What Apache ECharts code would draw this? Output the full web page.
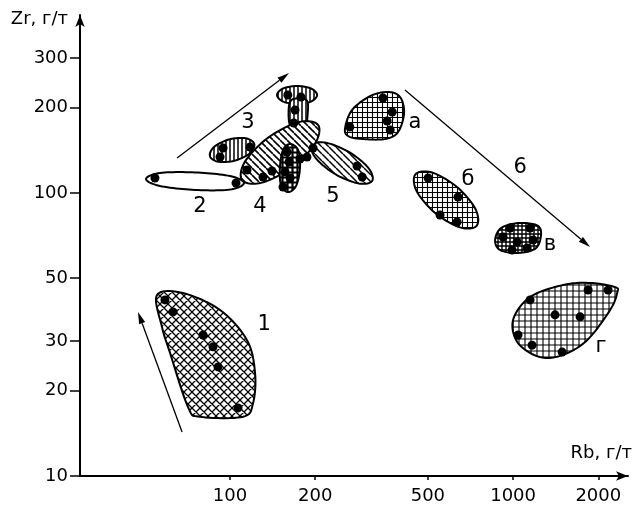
<!DOCTYPE html>
<html>
<head>
<meta charset="utf-8">
<script src="https://cdn.jsdelivr.net/npm/echarts@6/dist/echarts.min.js"></script>
<style>
  html, body { margin: 0; background: #fff; }
  #chart { width: 637px; height: 510px; }
</style>
</head>
<body>
<div id="chart"></div>
<script>
// все значения: [Rb, Zr], г/т
const xTicks = [100, 200, 500, 1000, 2000]
const yTicks = [10, 20, 30, 50, 100, 200, 300]

// контуры полей
const field1 = [[55.2, 43.6], [68.2, 44.3], [92.2, 38.6], [114.8, 30.2], [122.6, 23.1], [120.6, 18.1], [111.2, 16.2], [78.3, 16.2], [71.1, 17.5], [61.4, 27.2], [57.5, 33.6]]
const field2 = [[50.5, 112], [56.6, 117.7], [75.2, 118.2], [100, 114.8], [112, 108.5], [100, 102.9], [75.2, 102.5], [56.6, 105.9]]
const field3 = [[121.8, 149], [117.4, 138.1], [104, 130.2], [90.9, 129], [84.9, 135.1], [88, 145.7], [99.4, 154.7], [113.6, 156.1]]
const field4 = [[204.8, 173.9], [199.4, 149.1], [164.4, 122.7], [128.7, 108.6], [110.2, 111.2], [113.2, 129.6], [137.2, 157.6], [175.3, 178.1]]
const field4in = [[163, 149], [173.9, 141.9], [176.7, 122.6], [171.1, 105.9], [160, 100.8], [151.4, 106.7], [150, 122.6], [153.9, 141.9]]
const fieldTop = [[203, 222], [193.3, 210.6], [172.5, 206.3], [153.9, 210.6], [146.6, 222], [153.9, 234.1], [172.5, 238.8], [193.3, 234.1]]
const fieldStem = [[165, 213.2], [186, 213.2], [188, 190.2], [183, 169.7], [165, 169.7], [161, 190.2]]
const field5 = [[318.1, 110.5], [285, 108.1], [235.7, 116.5], [201.2, 132.5], [194.5, 147.4], [217, 150.7], [262.5, 139.8], [307.4, 123]]
const fieldA = [[255, 169.7], [269.9, 196.5], [312.5, 220], [361.7, 227.5], [398.8, 218.4], [412, 191.7], [392.4, 164.3], [352.9, 155.2], [292.7, 155.2], [261.2, 159]]
const fieldB = [[743.6, 76.6], [649.6, 75.6], [530.6, 85], [456.3, 101.6], [451.9, 116.4], [517.4, 118.1], [633.6, 105], [736.3, 87.8]]
const fieldV = [[1256, 72.2], [1206, 63.9], [1041, 61.4], [899.5, 62.9], [864, 68.2], [907, 75.2], [1041, 78.3], [1206, 77.1]]
const fieldG = [[2294, 46.5], [1871, 48.1], [1502, 47.3], [1148, 42.9], [1000, 35.6], [1041, 29.5], [1246, 26.3], [1502, 26.8], [1826, 30.2], [2202, 38.6], [2331, 44.3]]

// точки анализов
const pts1 = [[58.9, 41.9], [62.9, 38], [80.3, 31.5], [87.1, 28.6], [90.7, 24.3], [106.7, 17.4]]
const pts2 = [[54.3, 113], [105, 108.5]]
const pts3 = [[94.5, 144.2], [92.2, 134], [117.7, 145.4]]
const pts4 = [[114.8, 120.6], [130.8, 113.9], [140.7, 119.6], [176.7, 131.9], [187, 134], [196.5, 144.2]]
const pts4in = [[159, 139.6], [161.6, 128.7], [156.4, 118.7], [163, 113], [153.9, 105]]
const ptsTop = [[160, 222], [178, 218.4], [169.7, 196.5], [168, 176.7]]
const pts5 = [[281, 124.6], [293, 113.9]]
const ptsA = [[347, 216.6], [374, 193.3], [359, 179.6], [368, 167], [265, 171.1]]
const ptsB = [[501, 113], [639, 96.8], [552, 83.6], [634, 79]]
const ptsV = [[976, 75.2], [1148, 75.2], [922, 69.9], [1033, 67.1], [1177, 68.2], [992, 62.9], [1121, 63.9]]
const ptsG = [[1148, 41.9], [1841, 45.4], [2166, 45.4], [1407, 37.1], [1725, 36.5], [1041, 31.5], [1167, 29], [1490, 27.4]]

// стрелки трендов
const arrows = [
  [[67.7, 14.3], [47.3, 38]],
  [[65, 132.9], [161.6, 265.5]],
  [[415, 231], [1871, 64.4]]
]

// подписи полей
const labelNames = ['1', '2', '3', '4', '5', '6', 'а', 'б', 'в', 'г']
const labelAt = [[131.9, 34.2], [78.3, 89.9], [115.8, 176.7], [127.6, 89.9], [231, 96.8], [1059, 122.6], [450, 176.7], [693, 111.2], [1351, 65.5], [2046, 28.6]]

const L = Math.log10
const toLog = p => [L(p[0]), L(p[1])]
const FONT = "'DejaVu Sans', sans-serif"

// штриховки
function hatch(kind, s, lw) {
  const c = document.createElement('canvas')
  c.width = s
  c.height = s
  const g = c.getContext('2d')
  g.fillStyle = '#fff'
  g.fillRect(0, 0, s, s)
  g.strokeStyle = '#000'
  g.lineWidth = lw
  g.beginPath()
  if (kind === 'v' || kind === 'grid') {
    g.moveTo(s / 2, 0)
    g.lineTo(s / 2, s)
  }
  if (kind === 'grid') {
    g.moveTo(0, s / 2)
    g.lineTo(s, s / 2)
  }
  if (kind === 'back' || kind === 'cross') {
    for (let k = -1; k <= 1; k++) {
      g.moveTo(k * s, 0)
      g.lineTo(k * s + s, s)
    }
  }
  if (kind === 'cross') {
    for (let k = -1; k <= 1; k++) {
      g.moveTo(k * s, s)
      g.lineTo(k * s + s, 0)
    }
  }
  g.stroke()
  return { image: c, repeat: 'repeat' }
}

// сглаженный замкнутый контур (Catmull-Rom) по пиксельным вершинам
function closedCurve(pts, n) {
  const out = []
  const m = pts.length
  for (let i = 0; i < m; i++) {
    const p0 = pts[(i - 1 + m) % m]
    const p1 = pts[i]
    const p2 = pts[(i + 1) % m]
    const p3 = pts[(i + 2) % m]
    for (let k = 0; k < n; k++) {
      const t = k / n
      const t2 = t * t
      const t3 = t2 * t
      const c = j => 0.5 * (2 * p1[j] + (-p0[j] + p2[j]) * t + (2 * p0[j] - 5 * p1[j] + 4 * p2[j] - p3[j]) * t2 + (-p0[j] + 3 * p1[j] - 3 * p2[j] + p3[j]) * t3)
      out.push([c(0), c(1)])
    }
  }
  return out
}

const fields = [
  { outline: field1, fill: hatch('cross', 8, 1.3) },
  { outline: field2, fill: '#fff' },
  { outline: field3, fill: hatch('v', 4, 1.5) },
  { outline: field5, fill: hatch('back', 7, 1.5) },
  { outline: fieldTop, fill: hatch('v', 4, 1.5) },
  { outline: fieldStem, fill: hatch('v', 4, 1.5) },
  { outline: field4, fill: hatch('back', 7, 1.6) },
  { outline: field4in, fill: hatch('grid', 5, 2.2) },
  { outline: fieldA, fill: hatch('grid', 5, 1.1) },
  { outline: fieldB, fill: hatch('grid', 5, 1.1) },
  { outline: fieldV, fill: hatch('grid', 4, 1.4) },
  { outline: fieldG, fill: hatch('grid', 6, 1.1) }
]

const allPts = [].concat(pts1, pts2, pts3, pts4, pts4in, ptsTop, pts5, ptsA, ptsB, ptsV, ptsG)

const chart = echarts.init(document.getElementById('chart'))

const option = {
  animation: false,
  backgroundColor: '#fff',
  textStyle: { fontFamily: FONT },
  grid: { left: 80, right: 9, top: 15, bottom: 34 },
  xAxis: {
    type: 'value',
    min: 1.47,
    max: 3.406,
    name: 'Rb, г/т',
    nameLocation: 'end',
    nameGap: 4,
    nameTextStyle: { color: '#000', fontSize: 18, fontFamily: FONT, align: 'right', verticalAlign: 'bottom', padding: [0, 0, 14, 0] },
    axisLine: { show: true, onZero: false, symbol: ['none', 'arrow'], symbolSize: [7, 12], lineStyle: { color: '#000', width: 2 } },
    axisTick: { show: true, customValues: xTicks.map(L), length: 4, lineStyle: { color: '#000', width: 1.5 } },
    axisLabel: { customValues: xTicks.map(L), formatter: v => Math.round(Math.pow(10, v)), color: '#000', fontSize: 18, fontFamily: FONT, margin: 11 },
    splitLine: { show: false }
  },
  yAxis: {
    type: 'value',
    min: 1,
    max: 2.629,
    name: 'Zr, г/т',
    nameLocation: 'end',
    nameGap: -4,
    nameTextStyle: { color: '#000', fontSize: 18, fontFamily: FONT, align: 'right', verticalAlign: 'middle', padding: [0, 12, 0, 0] },
    axisLine: { show: true, onZero: false, symbol: ['none', 'arrow'], symbolSize: [7, 12], lineStyle: { color: '#000', width: 2 } },
    axisTick: { show: true, customValues: yTicks.map(L), length: 10, lineStyle: { color: '#000', width: 1.5 } },
    axisLabel: { customValues: yTicks.map(L), formatter: v => Math.round(Math.pow(10, v)), color: '#000', fontSize: 18, fontFamily: FONT, margin: 12 },
    splitLine: { show: false }
  },
  series: [
    {
      // поля составов
      type: 'custom',
      coordinateSystem: 'cartesian2d',
      clip: true,
      z: 2,
      data: fields.map(f => toLog(f.outline[0])),
      renderItem: (params, api) => {
        const f = fields[params.dataIndex]
        const points = closedCurve(f.outline.map(p => api.coord(toLog(p))), 12)
        return {
          type: 'polygon',
          shape: { points: points },
          style: { fill: f.fill, stroke: '#000', lineWidth: 2 }
        }
      }
    },
    {
      // стрелки
      type: 'custom',
      coordinateSystem: 'cartesian2d',
      z: 3,
      data: arrows.map(a => toLog(a[0])),
      renderItem: (params, api) => {
        const a = arrows[params.dataIndex]
        const p1 = api.coord(toLog(a[0]))
        const p2 = api.coord(toLog(a[1]))
        const dx = p2[0] - p1[0]
        const dy = p2[1] - p1[1]
        const len = Math.sqrt(dx * dx + dy * dy)
        const ux = dx / len
        const uy = dy / len
        const hl = 12
        const hw = 3.2
        const bx = p2[0] - ux * hl
        const by = p2[1] - uy * hl
        return {
          type: 'group',
          children: [
            {
              type: 'line',
              shape: { x1: p1[0], y1: p1[1], x2: bx, y2: by },
              style: { stroke: '#000', lineWidth: 1.3 }
            },
            {
              type: 'polygon',
              shape: { points: [p2, [bx - uy * hw, by + ux * hw], [bx + uy * hw, by - ux * hw]] },
              style: { fill: '#000' }
            }
          ]
        }
      }
    },
    {
      // точки
      type: 'scatter',
      z: 4,
      symbol: 'circle',
      symbolSize: 9,
      itemStyle: { color: '#000', opacity: 1 },
      data: allPts.map(toLog)
    },
    {
      // подписи
      type: 'scatter',
      z: 5,
      symbolSize: 0,
      itemStyle: { color: '#000', opacity: 1 },
      data: labelAt.map((p, i) => ({ value: toLog(p), name: labelNames[i] })),
      label: {
        show: true,
        position: 'inside',
        formatter: p => p.name,
        color: '#000',
        textBorderWidth: 0,
        fontSize: 21,
        fontFamily: FONT
      }
    }
  ]
}

chart.setOption(option)
</script>
</body>
</html>
